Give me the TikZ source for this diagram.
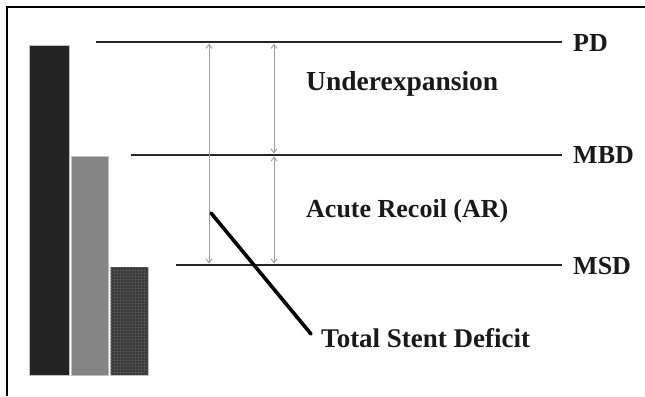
\documentclass[tikz,border=0pt]{standalone}
\usepackage{fontspec}
\setmainfont{Liberation Serif}
\usetikzlibrary{arrows.meta}

\definecolor{barA}{HTML}{232323}
\definecolor{barB}{HTML}{858585}
\definecolor{barC}{HTML}{383838}
\definecolor{barCgrid}{HTML}{4C4C4C}
\definecolor{gapgray}{HTML}{A0A0A0}

\begin{document}
\begin{tikzpicture}[x=1bp,y=-1bp,
  level/.style={line width=2.4bp, draw=black!85},
  lbl/.style={font=\bfseries\fontsize{26bp}{31bp}\selectfont, text=black!90, inner sep=0pt},
  lblbig/.style={lbl, font=\bfseries\fontsize{27.5bp}{32bp}\selectfont},
  lblmid/.style={lbl, font=\bfseries\fontsize{27bp}{32bp}\selectfont},
  gaparrow/.style={draw=gapgray, line width=1bp,
    {Straight Barb[length=4bp,width=6bp]}-{Straight Barb[length=4bp,width=6bp]}},
  barbox/.style={draw=black!25, line width=0.6bp},
  pointer/.style={line width=3.6bp, line cap=round, draw=black}
]
\useasboundingbox (0,0) rectangle (645,396);

% outer frame (top and left edges only)
\draw[line width=1.6bp] (7,396) -- (7,7) -- (645,7);

% diameter bars
\filldraw[barbox, fill=barA] (29,45) rectangle (69,375);
\filldraw[barbox, fill=barB] (71,156) rectangle (108,375);
\filldraw[barbox, fill=barC] (110,267) rectangle (148,375);
\begin{scope}
  \clip (110.5,267.5) rectangle (147.5,374.5);
  \draw[barCgrid, line width=0.5bp, step=3bp] (110,267) grid (148,375);
\end{scope}

% level labels
\node[lbl, anchor=west] (pd)  at (573,43)  {PD};
\node[lbl, anchor=west] (mbd) at (573,155) {MBD};
\node[lbl, anchor=west] (msd) at (573,266) {MSD};

% level lines
\coordinate (pdL)  at (96,42);
\coordinate (mbdL) at (131,155);
\coordinate (msdL) at (176,265);
\draw[level, shorten >=11bp] (pdL)  -- (pd.west |- pdL);
\draw[level, shorten >=11bp] (mbdL) -- (mbd.west |- mbdL);
\draw[level, shorten >=11bp] (msdL) -- (msd.west |- msdL);

% gap arrows
\coordinate (tA) at (209,43.6);
\coordinate (bA) at (209,263.6);
\coordinate (tB) at (274,43.6);
\coordinate (mB1) at (274,153.6);
\coordinate (mB2) at (274,156.4);
\coordinate (bB) at (274,263.6);
\draw[gaparrow] (tA) -- (bA);
\draw[gaparrow] (tB) -- (mB1);
\draw[gaparrow] (mB2) -- (bB);

% region texts
\node[lblbig, anchor=base west] (under) at (306,90)  {Underexpansion};
\node[lbl, anchor=base west] (recoil) at (306,217) {Acute Recoil (AR)};
\node[lblmid, anchor=base west] (tsd) at (321,347) {Total Stent Deficit};

% pointer to the total deficit label
\coordinate (ptrTop) at (211,213);
\coordinate (ptrEnd) at (311,334);
\draw[pointer] (ptrTop) -- (ptrEnd);
\end{tikzpicture}
\end{document}
